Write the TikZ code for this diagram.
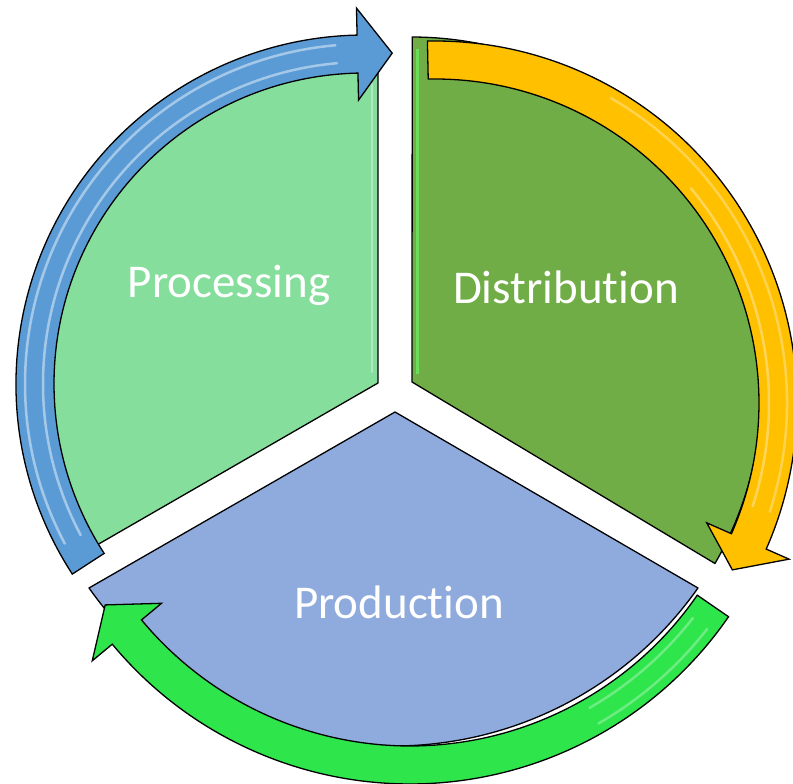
\documentclass[tikz,border=0pt]{standalone}
\usepackage{fontspec}
\setmainfont{Carlito}[Ligatures=NoCommon,RawFeature={-liga;-dlig}]
\definecolor{procfill}{RGB}{134,222,157}
\definecolor{distfill}{RGB}{112,173,71}
\definecolor{prodfill}{RGB}{143,170,220}
\definecolor{bluearrow}{RGB}{91,155,213}
\definecolor{yellowarrow}{RGB}{255,192,0}
\definecolor{greenarrow}{RGB}{46,229,76}
\begin{document}
\begin{tikzpicture}[x=1pt,y=1pt,
  seg/.style={draw=black,line width=1.3pt,line join=round},
  arr/.style={draw=black,line width=1.3pt,line join=miter},
  shine/.style={white,opacity=0.45,line width=2.5pt,line cap=round},
  lab/.style={text=white,font=\fontsize{47}{56}\selectfont,inner sep=0pt}]
\useasboundingbox (0,0) rectangle (793,784);

% Processing segment
\path[seg,fill=procfill] (378,401) -- (378,712.7)
  arc[start angle=87.6,end angle=211,radius=313] -- cycle;
\draw[shine,opacity=0.35] (372,700) -- (372,412);

% Distribution segment
\path[seg,fill=distfill] (412,402) -- ([shift={(411,396)}]89.8:351)
  arc[start angle=89.8,end angle=-30,radius=351] -- cycle;
\draw[line width=3pt,color=green!60!white,opacity=0.6] (417,735) -- (417,410);

% Production segment
\path[seg,fill=prodfill] (395,372) -- ([shift={(393.5,410.4)}]215.15:372.4)
  arc[start angle=215.15,end angle=324.85,radius=372.4] -- cycle;

% Blue arrow (Processing)
\begin{scope}[shift={(365,400)}]
\path[arr,fill=bluearrow] (213:349) arc[start angle=213,end angle=91.3,radius=349]
  -- (91.3:376) -- (85.3:332) -- (91.3:284) -- (91.3:311)
  arc[start angle=91.3,end angle=213,radius=311] -- cycle;
\draw[shine] (208:340) arc[start angle=208,end angle=95,radius=340];
\draw[shine] (208:322) arc[start angle=208,end angle=95,radius=322];
\end{scope}

% Yellow arrow (Distribution)
\begin{scope}[shift={(435,381)}]
\path[arr,fill=yellowarrow] (91.2:362) arc[start angle=91.2,end angle=-23.8,radius=362]
  -- (-23.8:387) -- (-29.3:341) -- (-23.8:297) -- (-23.8:324)
  arc[start angle=-23.8,end angle=91.2,radius=324] -- cycle;
\draw[shine,opacity=0.3] (60:352) arc[start angle=60,end angle=-18,radius=352];
\draw[shine,opacity=0.35] (40:334) arc[start angle=40,end angle=-18,radius=334];
\end{scope}

% Green arrow (Production)
\begin{scope}[shift={(410,387)}]
\path[arr,fill=greenarrow] (-34.6:387) arc[start angle=-34.6,end angle=-140.3,radius=387]
  -- (-140.3:413) -- (-145.7:369) -- (-140.3:323) -- (-140.3:349)
  arc[start angle=-140.3,end angle=-34.6,radius=349] -- cycle;
\draw[shine,opacity=0.3] (-38:377) arc[start angle=-38,end angle=-60,radius=377];
\draw[shine,opacity=0.3] (-38:359) arc[start angle=-38,end angle=-60,radius=359];
\end{scope}

% Labels
\node[lab] (proc) at (229,499) {Processing};
\node[lab] (dist) at (566,497) {Distribution};
\node[lab] (prod) at (399,182) {Production};
\end{tikzpicture}
\end{document}
